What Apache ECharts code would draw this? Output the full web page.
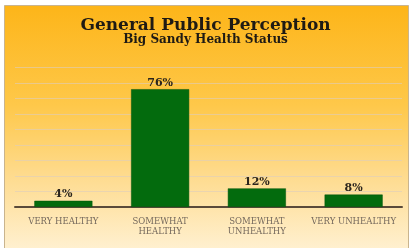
<!DOCTYPE html>
<html>
<head>
<meta charset="utf-8">
<script src="https://cdn.jsdelivr.net/npm/echarts@6/dist/echarts.min.js"></script>
<style>
  html, body { margin: 0; padding: 0; background: #fff; }
  #chart { width: 411px; height: 248px; }
</style>
</head>
<body>
<div id="chart"></div>
<script>
var categories = ['VERY HEALTHY', 'SOMEWHAT\nHEALTHY', 'SOMEWHAT\nUNHEALTHY', 'VERY UNHEALTHY'];
var percents = [4, 76, 12, 8];

var serif = '"DejaVu Serif", "Liberation Serif", serif';

var chart = echarts.init(document.getElementById('chart'));

chart.setOption({
    backgroundColor: '#ffffff',
    animation: false,
    graphic: [
        {
            type: 'rect',
            z: -10,
            silent: true,
            shape: { x: 4.5, y: 5.5, width: 404, height: 250 },
            style: {
                fill: new echarts.graphic.LinearGradient(0, 0, 0, 1, [
                    { offset: 0, color: '#fdb519' },
                    { offset: 0.4, color: '#fec84a' },
                    { offset: 0.68, color: '#fedb8e' },
                    { offset: 1, color: '#fff2d6' }
                ]),
                stroke: '#c9b48e',
                lineWidth: 1
            }
        }
    ],
    title: {
        text: 'General Public Perception',
        subtext: 'Big Sandy Health Status',
        left: 'center',
        top: 12,
        itemGap: 0,
        textStyle: {
            fontFamily: serif,
            fontWeight: 'bold',
            fontSize: 17,
            color: '#1e1a14'
        },
        subtextStyle: {
            fontFamily: serif,
            fontWeight: 'bold',
            fontSize: 12,
            color: '#1e1a14'
        }
    },
    grid: {
        left: 15,
        right: 9,
        top: 67.5,
        bottom: 41
    },
    xAxis: {
        type: 'category',
        data: categories,
        axisTick: { show: false },
        axisLine: { lineStyle: { color: '#5a4a3a', width: 2 } },
        axisLabel: {
            interval: 0,
            margin: 10,
            fontFamily: serif,
            fontSize: 8.5,
            lineHeight: 10,
            color: '#74685c'
        }
    },
    yAxis: {
        type: 'value',
        min: 0,
        max: 90,
        interval: 10,
        axisLabel: { show: false },
        axisLine: { show: false },
        axisTick: { show: false },
        splitLine: { lineStyle: { color: 'rgba(220,205,190,0.6)', width: 1 } }
    },
    series: [
        {
            type: 'bar',
            data: percents,
            barWidth: '60%',
            itemStyle: { color: '#036b0d', borderColor: '#02550a', borderWidth: 0.5 },
            label: {
                show: true,
                position: 'top',
                distance: 1,
                formatter: '{c}%',
                fontFamily: serif,
                fontWeight: 'bold',
                fontSize: 11,
                color: '#2a241c'
            }
        }
    ]
});
</script>
</body>
</html>
